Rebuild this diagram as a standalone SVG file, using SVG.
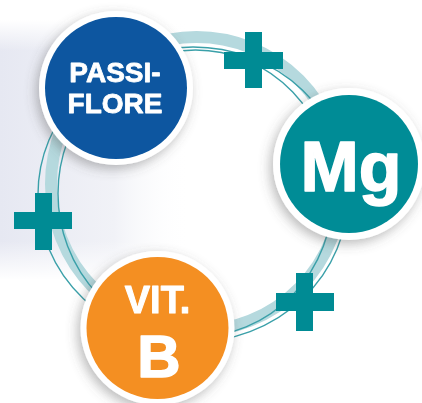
<svg xmlns="http://www.w3.org/2000/svg" width="422" height="403" viewBox="0 0 422 403">
<defs>
<linearGradient id="bg" x1="0" y1="0" x2="1" y2="0">
<stop offset="0" stop-color="#e6e8f2"/>
<stop offset="0.6" stop-color="#f1f2f7"/>
<stop offset="1" stop-color="#ffffff" stop-opacity="0"/>
</linearGradient>
<linearGradient id="bgv" x1="0" y1="0" x2="0" y2="1">
<stop offset="0" stop-color="#ffffff" stop-opacity="1"/>
<stop offset="0.12" stop-color="#ffffff" stop-opacity="0"/>
<stop offset="0.85" stop-color="#ffffff" stop-opacity="0"/>
<stop offset="1" stop-color="#ffffff" stop-opacity="1"/>
</linearGradient>
<filter id="sh" x="-30%" y="-30%" width="160%" height="160%">
<feDropShadow dx="-3" dy="4" stdDeviation="6" flood-color="#555" flood-opacity="0.4"/>
</filter>
</defs>
<style>
.ring{fill:#ffffff}
.plus{fill:#008b94}
.lbl{font-family:"Liberation Sans",Arial,sans-serif;font-weight:bold;fill:#ffffff;stroke:#ffffff;stroke-linejoin:round;text-anchor:middle}
.band{fill:none;stroke:#b5d9de;stroke-width:12}
.thin{fill:none;stroke:#3aa0a9;stroke-width:1.4}
</style>
<rect x="0" y="0" width="422" height="403" fill="#ffffff"/>
<rect x="0" y="20" width="190" height="260" fill="url(#bg)"/>
<rect x="0" y="20" width="190" height="260" fill="url(#bgv)"/>
<g id="connectors">
<ellipse class="band" cx="196.5" cy="184" rx="145.5" ry="147"/>
<ellipse class="thin" cx="193" cy="194.5" rx="155" ry="147.5"/>
<ellipse class="thin" cx="195.5" cy="193.5" rx="137.5" ry="143.5"/>
</g>
<g id="plus-top"><rect class="plus" x="245" y="32" width="17" height="56"/><rect class="plus" x="224" y="52" width="59" height="17"/></g>
<g id="plus-left"><rect class="plus" x="35" y="193" width="17" height="57"/><rect class="plus" x="14" y="212" width="58" height="17"/></g>
<g id="plus-right"><rect class="plus" x="296" y="273" width="17" height="58"/><rect class="plus" x="276" y="293" width="58" height="18"/></g>
<g id="passiflore" filter="url(#sh)">
<circle class="ring" cx="116" cy="88" r="77"/>
<circle cx="116" cy="88" r="71" fill="#0a56a0"/>
<text class="lbl" x="115" y="82" font-size="28" stroke-width="0.8">PASSI-</text>
<text class="lbl" x="115" y="113" font-size="28" stroke-width="0.8">FLORE</text>
</g>
<g id="mg" filter="url(#sh)">
<circle class="ring" cx="349" cy="164" r="76"/>
<circle cx="349" cy="164" r="69" fill="#008c96"/>
<text class="lbl" x="351" y="191" font-size="70" stroke-width="1.5">Mg</text>
</g>
<g id="vitb" filter="url(#sh)">
<circle class="ring" cx="157.5" cy="328" r="77"/>
<circle cx="157.5" cy="328" r="71" fill="#f48f22"/>
<text class="lbl" x="157.5" y="313" font-size="38" stroke-width="1">VIT.</text>
<text class="lbl" x="159" y="377" font-size="60" stroke-width="1.5">B</text>
</g>
</svg>
